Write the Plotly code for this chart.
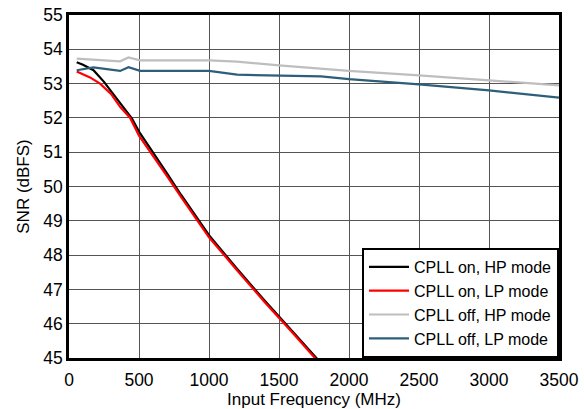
import plotly.graph_objects as go

# CPLL on, HP mode
f_on_hp = [55, 100, 175, 250, 300, 365, 400, 450, 500, 600, 700, 800, 900, 1000, 1200, 1400, 1600, 1800]
snr_on_hp = [53.62, 53.55, 53.39, 53.05, 52.78, 52.43, 52.25, 51.98, 51.6, 51.0, 50.38, 49.76, 49.16, 48.58, 47.6, 46.66, 45.76, 44.85]

# CPLL on, LP mode
f_on_lp = [55, 100, 150, 222, 300, 365, 437, 500, 600, 700, 800, 900, 1000, 1200, 1400, 1600, 1800]
snr_on_lp = [53.35, 53.28, 53.18, 53.0, 52.7, 52.32, 52.0, 51.48, 50.9, 50.3, 49.7, 49.1, 48.52, 47.56, 46.62, 45.72, 44.8]

# CPLL off, HP mode
f_off_hp = [55, 150, 250, 365, 425, 508, 1000, 1200, 1500, 2000, 2500, 3000, 3500]
snr_off_hp = [53.73, 53.7, 53.68, 53.65, 53.76, 53.68, 53.68, 53.64, 53.53, 53.37, 53.24, 53.09, 52.95]

# CPLL off, LP mode
f_off_lp = [55, 175, 365, 425, 508, 1000, 1200, 1500, 1800, 2000, 2500, 3000, 3500]
snr_off_lp = [53.39, 53.47, 53.37, 53.48, 53.37, 53.37, 53.26, 53.24, 53.21, 53.13, 52.98, 52.8, 52.59]

names = ["CPLL on, HP mode", "CPLL on, LP mode", "CPLL off, HP mode", "CPLL off, LP mode"]
colors = ["#000000", "#FF0000", "#BEBEBE", "#2D5F7A"]

fig = go.Figure()
series = [(f_on_hp, snr_on_hp), (f_on_lp, snr_on_lp), (f_off_hp, snr_off_hp), (f_off_lp, snr_off_lp)]
for (x, y), n, c in zip(series, names, colors):
    fig.add_trace(go.Scatter(x=x, y=y, mode="lines", name=n,
                             line=dict(color=c, width=2.2)))

font_family = "Liberation Sans, Arial, sans-serif"
fig.update_layout(
    width=584, height=409,
    margin=dict(l=69, r=25, t=15, b=51, autoexpand=False),
    paper_bgcolor="white", plot_bgcolor="white",
    font=dict(family=font_family, size=16, color="black"),
    showlegend=True,
    legend=dict(x=1, y=0, xanchor="right", yanchor="bottom",
                bgcolor="white", bordercolor="black", borderwidth=2,
                font=dict(size=16), tracegroupgap=0, itemwidth=40),
)
fig.update_xaxes(range=[0, 3500], dtick=500, tick0=0, automargin=False,
                 showgrid=True, gridcolor="#555555", gridwidth=1,
                 showline=True, linecolor="black", linewidth=2.5, mirror=True,
                 ticks="outside", ticklen=4, tickcolor="rgba(0,0,0,0)",
                 zeroline=False, ticklabeloverflow="allow",
                 title=dict(text="Input Frequency (MHz)", font=dict(size=17), standoff=0),
                 tickfont=dict(size=17.5))
fig.update_yaxes(range=[45, 55], dtick=1, tick0=45, automargin=False,
                 showgrid=True, gridcolor="#555555", gridwidth=1,
                 showline=True, linecolor="black", linewidth=2.5, mirror=True,
                 ticks="", zeroline=False, ticklabeloverflow="allow",
                 title=dict(text="SNR (dBFS)", font=dict(size=17), standoff=10),
                 tickfont=dict(size=17.5))

fig.write_html("out.html", config={"displayModeBar": False},
               post_script="document.body.style.margin='0px';")
